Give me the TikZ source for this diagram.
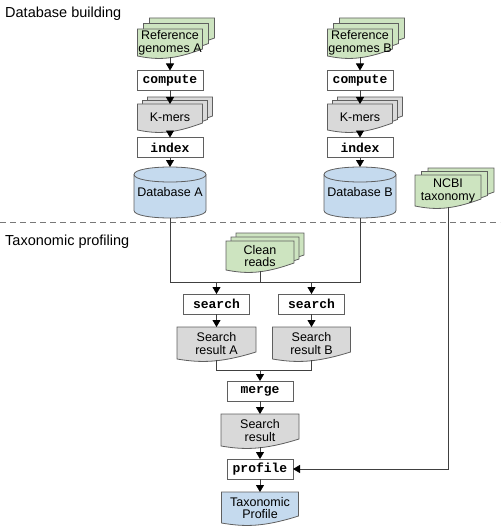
\documentclass[tikz,border=0pt]{standalone}
\usepackage{fontspec}
\setmainfont{Liberation Sans}
\setmonofont{Liberation Mono}
\usetikzlibrary{arrows.meta,calc,backgrounds}
\definecolor{docgreen}{RGB}{205,228,192}
\definecolor{dbblue}{RGB}{197,218,238}
\definecolor{docgray}{RGB}{217,217,217}
\definecolor{edgecol}{RGB}{95,95,95}
\definecolor{sepcol}{RGB}{120,120,120}

% document outline around node #1, offset (#2,#3)
\newcommand\docpath[3]{($(#1.north west)+(#2,#3)$) -- ($(#1.north east)+(#2,#3)$) -- ($(#1.south east)+(#2,#3-8)$) .. controls ($(#1.south west)!0.55!(#1.south east)+(#2,#3+3)$) and ($(#1.south west)!0.3!(#1.south east)+(#2,#3+3)$) .. ($(#1.south west)+(#2,#3-1)$) -- cycle}
% stack of three documents: node, fill, offset1 x,y, offset2 x,y
\newcommand\docstack[6]{%
  \filldraw[shapeline, fill=#2] \docpath{#1}{#5}{#6};
  \filldraw[shapeline, fill=#2] \docpath{#1}{#3}{#4};
  \filldraw[shapeline, fill=#2] \docpath{#1}{0}{0};}
\newcommand\singledoc[2]{\filldraw[shapeline, fill=#2] \docpath{#1}{0}{0};}
% cylinder: node box spans from top-ellipse centre to bottom-ellipse centre
\newcommand\cyl[2]{%
  \filldraw[shapeline, fill=#2] (#1.north west) -- (#1.south west) .. controls ($(#1.south west)+(0,10)$) and ($(#1.south east)+(0,10)$) .. (#1.south east) -- (#1.north east) .. controls ($(#1.north east)+(0,-10)$) and ($(#1.north west)+(0,-10)$) .. (#1.north west) -- cycle;
  \draw[shapeline] (#1.north west) .. controls ($(#1.north west)+(0,10)$) and ($(#1.north east)+(0,10)$) .. (#1.north east);}

\begin{document}
\begin{tikzpicture}[x=1pt,y=-1pt,
  shapeline/.style={draw=edgecol, line width=0.8pt},
  lbl/.style={font=\fontsize{12.5}{12.8}\selectfont, align=center, inner sep=0pt, outer sep=0pt},
  cmd/.style={draw=edgecol, fill=white, line width=0.8pt, font=\ttfamily\bfseries\fontsize{13}{14}\selectfont, inner sep=0pt, outer sep=0pt, minimum width=66pt, minimum height=20pt},
  conn/.style={draw=black!75, line width=0.8pt},
  arr/.style={conn, -{Triangle[width=8pt,length=7pt,color=black,fill=black]}},
  title/.style={anchor=base west, font=\fontsize{14.5}{16}\selectfont, inner sep=0pt}]
\useasboundingbox (0,0) rectangle (500,532);

% section titles and separator
\node[title] (tdb) at (5,17.3) {Database building};
\node[title] (ttp) at (5,245.5) {Taxonomic profiling};
\draw[sepcol, line width=0.9pt, dash pattern=on 6pt off 4pt] (0,222) -- (500,222);

% column A
\node[lbl, minimum width=65pt, minimum height=28pt] (refA) at (170,43) {Reference\\genomes A};
\node[cmd] (compA) at (170,80.5) {compute};
\node[lbl, minimum width=65pt, minimum height=27pt] (kmA) at (170,117.5) {K-mers};
\node[cmd] (idxA) at (170,147.5) {index};
\node[lbl, minimum width=72pt, minimum height=36pt] (dbA) at (170,192.5) {Database A};

% column B
\node[lbl, minimum width=65pt, minimum height=28pt] (refB) at (360,43) {Reference\\genomes B};
\node[cmd] (compB) at (360,80.5) {compute};
\node[lbl, minimum width=65pt, minimum height=27pt] (kmB) at (360,117.5) {K-mers};
\node[cmd] (idxB) at (360,147.5) {index};
\node[lbl, minimum width=72pt, minimum height=36pt] (dbB) at (360,192.5) {Database B};

% NCBI
\node[lbl, minimum width=66pt, minimum height=32pt] (ncbi) at (448,191) {NCBI\\taxonomy};

% profiling
\node[lbl, minimum width=68pt, minimum height=30pt] (clean) at (260,256) {Clean\\reads};
\node[cmd] (srchA) at (216.5,304) {search};
\node[cmd] (srchB) at (311.5,304) {search};
\node[lbl, minimum width=79pt, minimum height=33pt] (resA) at (216.5,343.5) {Search\\result A};
\node[lbl, minimum width=78pt, minimum height=33pt] (resB) at (311.5,343.5) {Search\\result B};
\node[cmd] (merge) at (260,391) {merge};
\node[lbl, minimum width=78pt, minimum height=33pt] (res) at (260,430.5) {Search\\result};
\node[cmd] (prof) at (260,469) {profile};
\node[lbl, minimum width=77pt, minimum height=32pt] (tax) at (260,508) {Taxonomic\\Profile};

% shapes behind the labels
\begin{pgfonlayer}{background}
  \docstack{refA}{docgreen}{6}{-5.5}{12}{-11}
  \docstack{kmA}{docgray}{5}{-3.5}{10}{-7}
  \cyl{dbA}{dbblue}
  \docstack{refB}{docgreen}{6}{-5.5}{12}{-11}
  \docstack{kmB}{docgray}{5}{-3.5}{10}{-7}
  \cyl{dbB}{dbblue}
  \docstack{ncbi}{docgreen}{6.5}{-3.5}{13}{-7}
  \docstack{clean}{docgreen}{5}{-4}{10}{-8}
  \singledoc{resA}{docgray}
  \singledoc{resB}{docgray}
  \singledoc{res}{docgray}
  \singledoc{tax}{dbblue}
\end{pgfonlayer}

% connectors, column A
\draw[arr] (refA.south) -- (compA.north);
\draw[arr] (compA.south) -- (kmA.north);
\draw[arr] (kmA.south) -- (idxA.north);
\draw[arr] (idxA.south) -- ($(dbA.north)+(0,-7.5)$);
% connectors, column B
\draw[arr] (refB.south) -- (compB.north);
\draw[arr] (compB.south) -- (kmB.north);
\draw[arr] (kmB.south) -- (idxB.north);
\draw[arr] (idxB.south) -- ($(dbB.north)+(0,-7.5)$);

% join of databases and reads
\coordinate (jA) at (170,282);
\coordinate (jB) at (360,282);
\coordinate (jC) at (260,282);
\draw[conn] ($(dbA.south)+(0,7.5)$) -- (jA) -- (jB) -- ($(dbB.south)+(0,7.5)$);
\draw[conn] (clean.south) -- (jC);
\draw[arr] (srchA.north |- jA) -- (srchA.north);
\draw[arr] (srchB.north |- jA) -- (srchB.north);
\draw[arr] (srchA.south) -- (resA.north);
\draw[arr] (srchB.south) -- (resB.north);

% merge
\coordinate (jM) at (260,370);
\draw[conn] (resA.south) -- (resA.south |- jM) -- (resB.south |- jM) -- (resB.south);
\draw[arr] (jM) -- (merge.north);
\draw[arr] (merge.south) -- (res.north);
\draw[arr] (res.south) -- (prof.north);
\draw[arr] (prof.south) -- (tax.north);
\draw[arr] (ncbi.south) |- (prof.east);
\end{tikzpicture}
\end{document}
